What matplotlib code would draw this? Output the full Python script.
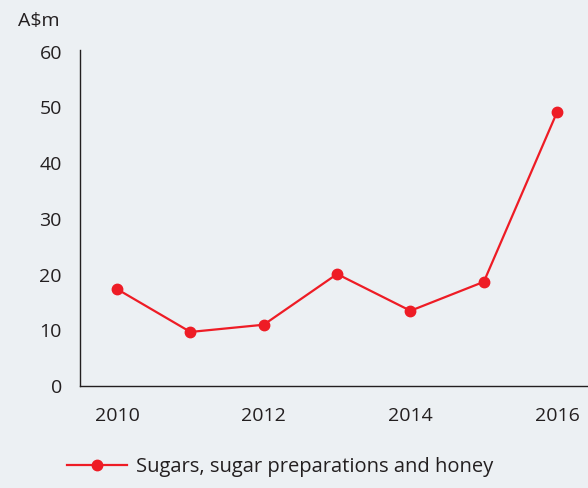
import matplotlib.pyplot as plt

years = [2010, 2011, 2012, 2013, 2014, 2015, 2016]
values = [17.4, 9.7, 11.0, 20.1, 13.5, 18.7, 49.2]
series_name = 'Sugars, sugar preparations and honey'

bg = '#ecf0f3'
red = '#ee1c25'
txt = '#231f20'

plt.rcParams['font.family'] = ['Open Sans', 'DejaVu Sans']

fig = plt.figure(figsize=(5.88, 4.88), dpi=100, facecolor=bg)
ax = fig.add_axes([0.136, 0.209, 0.864, 0.6885], facecolor=bg)

line, = ax.plot(years, values, color=red, lw=1.6, marker='o', ms=7.5,
                label=series_name, clip_on=False)

ax.set_xlim(2009.495, 2016.42)
ax.set_ylim(0, 60.3)
ax.set_xticks([2010, 2012, 2014, 2016])
ax.set_yticks(range(0, 61, 10))
ax.tick_params(length=0, labelsize=14, colors=txt)
ax.tick_params(axis='x', pad=15)
ax.tick_params(axis='y', pad=13)
for s in ['top', 'right']:
    ax.spines[s].set_visible(False)
for s in ['left', 'bottom']:
    ax.spines[s].set_color(txt)
    ax.spines[s].set_linewidth(1.0)

fig.text(0.03, 0.957, 'A$m', fontsize=14, color=txt, va='center', ha='left')

fig.legend(handles=[line], loc='center left', bbox_to_anchor=(0.114, 0.043),
           frameon=False, fontsize=14.5, handlelength=3.0, handletextpad=0.4,
           borderpad=0, borderaxespad=0, labelcolor=txt)

fig.savefig('out.png', facecolor=bg)
